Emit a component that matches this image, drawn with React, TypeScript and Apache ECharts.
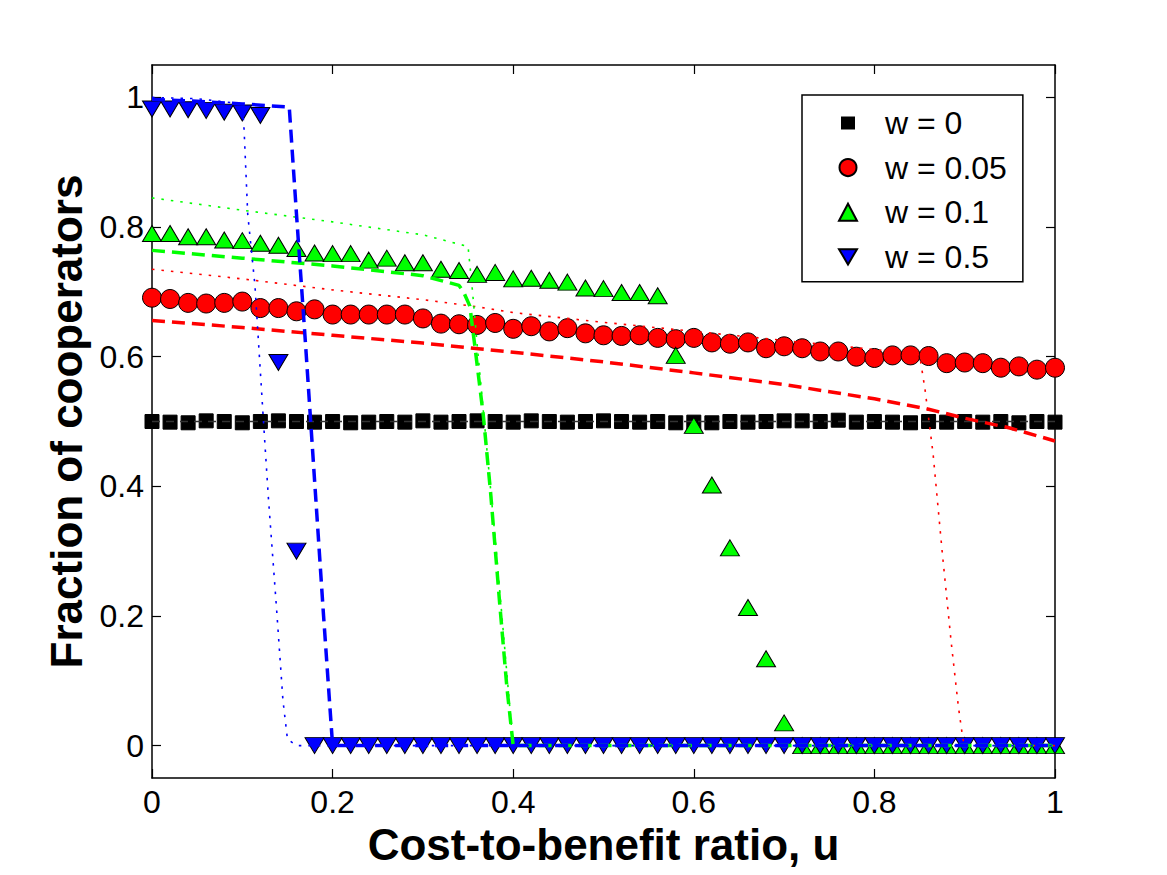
import React, { useEffect, useRef } from "react";
import * as echarts from "echarts";

// Cost-to-benefit ratio samples (x positions of the simulation markers)
const uValues = [
  0, 0.02, 0.04, 0.06, 0.08, 0.1, 0.12, 0.14, 0.16, 0.18,
  0.2, 0.22, 0.24, 0.26, 0.28, 0.3, 0.32, 0.34, 0.36, 0.38,
  0.4, 0.42, 0.44, 0.46, 0.48, 0.5, 0.52, 0.54, 0.56, 0.58,
  0.6, 0.62, 0.64, 0.66, 0.68, 0.7, 0.72, 0.74, 0.76, 0.78,
  0.8, 0.82, 0.84, 0.86, 0.88, 0.9, 0.92, 0.94, 0.96, 0.98, 1,
];

// Simulated fraction of cooperators for each w
const coopW0 = [
  0.5, 0.499, 0.498, 0.501, 0.5, 0.498, 0.5, 0.501, 0.5, 0.499,
  0.5, 0.498, 0.499, 0.5, 0.499, 0.501, 0.499, 0.5, 0.501, 0.5,
  0.499, 0.501, 0.5, 0.499, 0.5, 0.501, 0.5, 0.499, 0.5, 0.498,
  0.499, 0.498, 0.5, 0.499, 0.5, 0.501, 0.501, 0.5, 0.502, 0.499,
  0.5, 0.499, 0.498, 0.5, 0.499, 0.5, 0.499, 0.5, 0.498, 0.5, 0.499,
];

const coopW005 = [
  0.691, 0.689, 0.683, 0.682, 0.683, 0.685, 0.675, 0.675, 0.67, 0.673,
  0.665, 0.665, 0.665, 0.665, 0.665, 0.659, 0.651, 0.65, 0.649, 0.652,
  0.643, 0.647, 0.639, 0.644, 0.636, 0.633, 0.632, 0.633, 0.629, 0.627,
  0.629, 0.622, 0.62, 0.622, 0.613, 0.616, 0.613, 0.608, 0.608, 0.6,
  0.598, 0.602, 0.602, 0.601, 0.59, 0.591, 0.59, 0.583, 0.585, 0.58, 0.583,
];

const coopW01 = [
  0.79, 0.79, 0.785, 0.785, 0.78, 0.779, 0.775, 0.772, 0.767, 0.76,
  0.759, 0.759, 0.749, 0.752, 0.745, 0.745, 0.735, 0.733, 0.727, 0.73,
  0.72, 0.721, 0.718, 0.715, 0.706, 0.705, 0.699, 0.699, 0.694, 0.602,
  0.494, 0.402, 0.305, 0.213, 0.134, 0.035, 0, 0, 0, 0,
  0, 0, 0, 0, 0, 0, 0, 0, 0, 0, 0,
];

const coopW05 = [
  0.982, 0.982, 0.981, 0.98, 0.977, 0.976, 0.972, 0.591, 0.3, 0,
  0, 0, 0, 0, 0, 0, 0, 0, 0, 0,
  0, 0, 0, 0, 0, 0, 0, 0, 0, 0,
  0, 0, 0, 0, 0, 0, 0, 0, 0, 0,
  0, 0, 0, 0, 0, 0, 0, 0, 0, 0, 0,
];

// Analytical approximations, given as [u, fraction] pairs
const theoryW0 = [
  [0, 0.5],
  [1, 0.5],
];
const redDashed = [
  [0, 0.656], [0.1, 0.645], [0.2, 0.633], [0.3, 0.621], [0.4, 0.607],
  [0.5, 0.592], [0.6, 0.575], [0.7, 0.557], [0.8, 0.535], [0.86, 0.519],
  [0.9, 0.505], [0.95, 0.49], [1, 0.47],
];
const redDotted = [
  [0, 0.735], [0.1, 0.72], [0.2, 0.703], [0.3, 0.688], [0.36, 0.677],
  [0.4, 0.668], [0.5, 0.653], [0.6, 0.639], [0.7, 0.625], [0.8, 0.611],
  [0.85, 0.603], [0.856, 0.55], [0.865, 0.45], [0.875, 0.3], [0.885, 0.16],
  [0.893, 0.06], [0.898, 0.01], [0.9, 0], [1, 0],
];
const greenDashed = [
  [0, 0.764], [0.1, 0.752], [0.2, 0.74], [0.3, 0.725], [0.34, 0.71],
  [0.345, 0.7], [0.352, 0.678], [0.358, 0.611], [0.367, 0.508], [0.375, 0.39],
  [0.385, 0.22], [0.393, 0.09], [0.4, 0], [1, 0],
];
const greenDotted = [
  [0, 0.845], [0.1, 0.826], [0.2, 0.808], [0.3, 0.788], [0.35, 0.77],
  [0.355, 0.7], [0.36, 0.62], [0.37, 0.47], [0.38, 0.32], [0.39, 0.16],
  [0.398, 0.03], [0.4, 0], [1, 0],
];
const blueDashed = [
  [0, 0.997], [0.05, 0.994], [0.1, 0.99], [0.152, 0.985], [0.16, 0.82],
  [0.17, 0.62], [0.18, 0.41], [0.19, 0.2], [0.2, 0], [1, 0],
];
const blueDotted = [
  [0, 1.0], [0.05, 0.998], [0.1, 0.99], [0.102, 0.95], [0.106, 0.82],
  [0.114, 0.71], [0.123, 0.51], [0.129, 0.38], [0.138, 0.21], [0.145, 0.07],
  [0.15, 0.01], [0.16, 0], [1, 0],
];

const yTicks = [0, 0.2, 0.4, 0.6, 0.8, 1];

const FONT = "'Liberation Sans', Arial, Helvetica, sans-serif";
const DASHED = [13, 7];
const DOTTED = [2.5, 7];
const DOWN_TRIANGLE = "path://M0,0L20,0L10,17Z";

const pairs = (ys: number[]) => uValues.map((u, i) => [u, ys[i]]);

const theoryLine = (data: number[][], color: string, width: number, dash: number[]) => ({
  type: "line",
  data,
  showSymbol: false,
  symbol: "none",
  silent: true,
  z: 5,
  lineStyle: { color, width, type: dash },
});

export default function App() {
  const ref = useRef<HTMLDivElement>(null);

  useEffect(() => {
    if (!ref.current) return;
    const chart = echarts.init(ref.current, null, { renderer: "svg" });

    const axisLine = { show: true, onZero: false, lineStyle: { color: "#000", width: 1.5 } };
    const tick = { show: true, inside: true, length: 9, lineStyle: { color: "#000", width: 1.2 } };

    chart.setOption({
      animation: false,
      backgroundColor: "#fff",
      textStyle: { fontFamily: FONT },
      grid: { left: 152, right: 112, top: 65, bottom: 97 },
      xAxis: [
        {
          type: "value",
          min: 0,
          max: 1,
          interval: 0.2,
          position: "bottom",
          axisLine,
          axisTick: tick,
          splitLine: { show: false },
          axisLabel: { color: "#000", fontSize: 32, margin: 8, fontFamily: FONT },
          name: "Cost-to-benefit ratio, u",
          nameLocation: "middle",
          nameGap: 42,
          nameTextStyle: { color: "#000", fontSize: 44, fontWeight: "bold", fontFamily: FONT },
        },
        {
          type: "value",
          min: 0,
          max: 1,
          interval: 0.2,
          position: "top",
          axisLine,
          axisTick: tick,
          splitLine: { show: false },
          axisLabel: { show: false },
        },
      ],
      yAxis: [
        {
          type: "value",
          min: -0.05,
          max: 1.05,
          position: "left",
          axisLine,
          axisTick: { ...tick, customValues: yTicks },
          splitLine: { show: false },
          axisLabel: { color: "#000", fontSize: 32, margin: 8, fontFamily: FONT, customValues: yTicks },
          name: "Fraction of cooperators",
          nameLocation: "middle",
          nameGap: 60,
          nameTextStyle: { color: "#000", fontSize: 44, fontWeight: "bold", fontFamily: FONT },
        },
        {
          type: "value",
          min: -0.05,
          max: 1.05,
          position: "right",
          axisLine,
          axisTick: { ...tick, customValues: yTicks },
          splitLine: { show: false },
          axisLabel: { show: false, customValues: yTicks },
        },
      ],
      legend: {
        data: [
          { name: "w = 0", icon: "rect", itemStyle: { borderColor: "#fff", borderWidth: 4 } },
          { name: "w = 0.05", icon: "circle" },
          { name: "w = 0.1", icon: "triangle" },
          { name: "w = 0.5", icon: DOWN_TRIANGLE },
        ],
        orient: "vertical",
        left: 802,
        top: 95,
        padding: [10, 16, 7, 35],
        itemGap: 8.6,
        itemWidth: 18,
        itemHeight: 17,
        selectedMode: false,
        borderColor: "#000",
        borderWidth: 1.5,
        backgroundColor: "#fff",
        textStyle: { color: "#000", fontSize: 32, lineHeight: 36, fontFamily: FONT, padding: [0, 0, 0, 23] },
      },
      series: [
        theoryLine(theoryW0, "#333", 1.5, [8, 6]),
        {
          name: "w = 0",
          type: "scatter",
          data: pairs(coopW0),
          symbol: "rect",
          symbolSize: 14,
          z: 2,
          itemStyle: { color: "#000", borderColor: "#000", borderWidth: 1, opacity: 1 },
        },
        {
          name: "w = 0.05",
          type: "scatter",
          data: pairs(coopW005),
          symbol: "circle",
          symbolSize: 19,
          z: 2,
          itemStyle: { color: "#ff0000", borderColor: "#000", borderWidth: 1, opacity: 1 },
        },
        {
          name: "w = 0.1",
          type: "scatter",
          data: pairs(coopW01),
          symbol: "triangle",
          symbolSize: [19, 16],
          z: 2,
          itemStyle: { color: "#00ff00", borderColor: "#000", borderWidth: 1, opacity: 1 },
        },
        {
          name: "w = 0.5",
          type: "scatter",
          data: pairs(coopW05),
          symbol: DOWN_TRIANGLE,
          symbolSize: [19, 16],
          z: 2,
          itemStyle: { color: "#0000ff", borderColor: "#000", borderWidth: 1, opacity: 1 },
        },
        theoryLine(redDotted, "#ff0000", 1.6, DOTTED),
        theoryLine(redDashed, "#ff0000", 3.5, DASHED),
        theoryLine(greenDotted, "#00ff00", 1.6, DOTTED),
        theoryLine(greenDashed, "#00ff00", 3.5, DASHED),
        theoryLine(blueDotted, "#0000ff", 1.6, DOTTED),
        theoryLine(blueDashed, "#0000ff", 3.5, DASHED),
      ],
    });

    return () => chart.dispose();
  }, []);

  return (
    <div
      ref={ref}
      style={{ position: "fixed", left: 0, top: 0, width: 1167, height: 875, background: "#fff" }}
    />
  );
}
